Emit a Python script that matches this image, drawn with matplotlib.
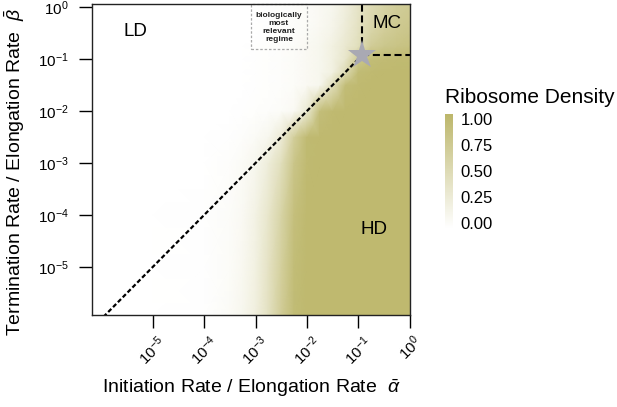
import numpy as np
import matplotlib
matplotlib.use('Agg')
import matplotlib.pyplot as plt
import matplotlib.transforms as mtrans
from matplotlib.colors import LinearSegmentedColormap
from matplotlib.patches import Rectangle

plt.rcParams['font.family'] = ['Liberation Sans', 'DejaVu Sans']
plt.rcParams['mathtext.fontset'] = 'custom'
plt.rcParams['mathtext.rm'] = 'Liberation Sans'
plt.rcParams['mathtext.it'] = 'Liberation Sans:italic'

alpha_exp = [-6.19, -5.0, -4.0, -3.5, -3.25, -3.0, -2.75, -2.5, -2.25, -2.0,
             -1.75, -1.5, -1.25, -1.0, -0.75, -0.5, -0.25, 0.0]
beta_exp = [-5.92, -5.0, -4.0, -3.0, -2.5, -2.0, -1.5, -1.25, -1.0, -0.75,
            -0.5, -0.25, 0.06]

# ribosome density, one row per beta value
density = [
    [0, 0, .01, .06, .12, .22, .42, .70, .93, .97, .97, .97, .97, .97, .97, .97, .97, .97],
    [0, 0, .01, .05, .10, .20, .40, .66, .92, .97, .97, .97, .97, .97, .97, .97, .97, .97],
    [0, 0, .01, .04, .08, .18, .35, .60, .88, .97, .97, .97, .97, .97, .97, .97, .97, .97],
    [0, 0, 0, .03, .06, .12, .25, .45, .80, .96, .97, .97, .97, .97, .97, .97, .97, .97],
    [0, 0, 0, .01, .03, .06, .12, .28, .68, .95, .97, .97, .97, .97, .97, .97, .97, .97],
    [0, 0, 0, 0, .01, .02, .03, .05, .08, .30, .90, .96, .97, .97, .97, .97, .97, .97],
    [0, 0, 0, 0, 0, .01, .02, .03, .05, .08, .12, .45, .92, .96, .97, .97, .97, .97],
    [0, 0, 0, 0, 0, .01, .02, .03, .05, .08, .12, .20, .50, .93, .96, .97, .97, .97],
    [0, 0, 0, 0, 0, .01, .02, .03, .05, .08, .12, .20, .35, .75, .92, .94, .95, .96],
    [0, 0, 0, 0, 0, .01, .02, .03, .05, .08, .12, .20, .32, .45, .70, .78, .82, .85],
    [0, 0, 0, 0, 0, 0, .01, .02, .03, .06, .10, .16, .28, .42, .60, .70, .76, .80],
    [0, 0, 0, 0, 0, 0, .01, .02, .03, .05, .08, .14, .25, .40, .55, .65, .72, .76],
    [0, 0, 0, 0, 0, 0, .01, .02, .03, .05, .08, .12, .22, .38, .50, .60, .68, .72],
]

critical = 0.12  # alpha = beta at the triple point
x_ticks = [1e-5, 1e-4, 1e-3, 1e-2, 1e-1, 1e0]
x_ticklabels = ['$10^{-5}$', '$10^{-4}$', '$10^{-3}$', '$10^{-2}$', '$10^{-1}$', '$10^{0}$']
y_ticks = [1e-5, 1e-4, 1e-3, 1e-2, 1e-1, 1e0]
y_ticklabels = ['$10^{-5}$', '$10^{-4}$', '$10^{-3}$', '$10^{-2}$', '$10^{-1}$', '$10^{0}$']
cbar_ticks = [0, 0.25, 0.5, 0.75, 1.0]
cbar_labels = ['0.00', '0.25', '0.50', '0.75', '1.00']

cmap = LinearSegmentedColormap.from_list('dens', ['#ffffff', '#bdb76b'])

fig = plt.figure(figsize=(6.17, 4.07), dpi=100)
ax = fig.add_axes([0.1486, 0.2268, 0.5154, 0.7634])

alpha = 10.0 ** np.array(alpha_exp)
beta = 10.0 ** np.array(beta_exp)
ax.pcolormesh(alpha, beta, np.array(density), shading='gouraud', cmap=cmap,
              vmin=0, vmax=1, rasterized=True)
ax.set_xscale('log')
ax.set_yscale('log')
ax.set_xlim(alpha[0], alpha[-1])
ax.set_ylim(beta[0], beta[-1])

# phase boundaries
ax.plot([1e-7, critical], [1e-7, critical], color='black', lw=1.6, dashes=(2, 1.1))
ax.plot([critical, critical], [critical, 2], color='black', lw=1.5, dashes=(3.4, 1.8))
ax.plot([critical, 2], [critical, critical], color='black', lw=1.5, dashes=(3.4, 1.8))
ax.plot([critical], [critical], marker='*', markersize=21, color='#a9a9b3',
        markeredgewidth=0, zorder=5, clip_on=False)

ax.text(0.138, 0.911, 'LD', transform=ax.transAxes, fontsize=13.5, ha='center', va='center')
ax.text(0.929, 0.936, 'MC', transform=ax.transAxes, fontsize=13.5, ha='center', va='center')
ax.text(0.887, 0.274, 'HD', transform=ax.transAxes, fontsize=13.5, ha='center', va='center')

ax.add_patch(Rectangle((0.501, 0.855), 0.176, 0.145, transform=ax.transAxes, fill=False,
                       edgecolor='#aaaaaa', lw=0.9, ls=(0, (2, 1.5)), clip_on=False))
ax.text(0.589, 0.924, 'biologically\nmost\nrelevant\nregime', transform=ax.transAxes,
        fontsize=6, fontweight='bold', ha='center', va='center', linespacing=1.25,
        color='#222222')

ax.minorticks_off()
ax.set_xticks(x_ticks)
ax.set_xticklabels(x_ticklabels, rotation=45, ha='center', va='top', fontsize=11)
shift = mtrans.ScaledTranslation(7 / 100, 0, fig.dpi_scale_trans)
for lab in ax.get_xticklabels():
    lab.set_transform(lab.get_transform() + shift)
ax.set_yticks(y_ticks)
ax.set_yticklabels(y_ticklabels, fontsize=11)
ax.tick_params(axis='both', direction='out', length=9.5, width=1, colors='black')
ax.tick_params(axis='x', pad=3.5)
ax.tick_params(axis='y', pad=7)
for s in ax.spines.values():
    s.set_linewidth(1.0)
    s.set_color('#222222')

ax.set_xlabel(r'Initiation Rate / Elongation Rate  $\bar{\alpha}$', fontsize=14, va='center')
ax.xaxis.set_label_coords(0.501, -0.236)
ax.set_ylabel(r'Termination Rate / Elongation Rate  $\bar{\beta}$', fontsize=14, va='center')
ax.yaxis.set_label_coords(-0.241, 0.459)

# colour bar drawn as a separate small axes
cax = fig.add_axes([445 / 617, 1 - 228 / 407, 7 / 617, 114 / 407])
grad = np.linspace(0, 1, 256)[:, None]
cax.imshow(grad, aspect='auto', cmap=cmap, origin='lower', extent=[0, 1, -0.047, 1.047])
cax.set_xticks([])
cax.yaxis.tick_right()
cax.set_yticks(cbar_ticks)
cax.set_yticklabels(cbar_labels, fontsize=12)
cax.tick_params(axis='y', length=0, pad=6)
for s in cax.spines.values():
    s.set_visible(False)
fig.text(445 / 617, 1 - 103 / 407, 'Ribosome Density', fontsize=15, ha='left', va='baseline')

fig.savefig('out.png', dpi=100)
